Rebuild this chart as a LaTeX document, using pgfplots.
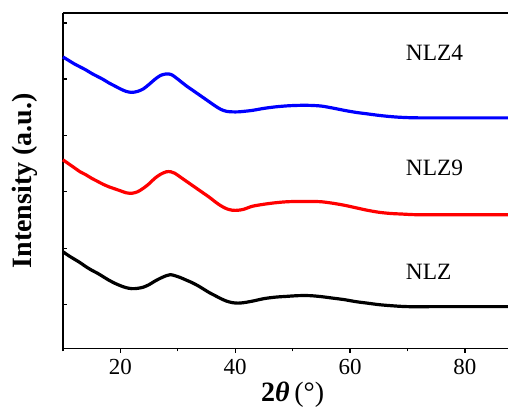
\documentclass[border=0pt]{standalone}
\usepackage{fontspec}
\setmainfont{Liberation Serif}
\usepackage{pgfplots}
\pgfplotsset{compat=1.18}
\begin{document}
\begin{tikzpicture}
\begin{axis}[
  scale only axis,
  width=222.8pt, height=168pt,
  xmin=10, xmax=87.5, ymin=0, ymax=336,
  axis lines*=left,
  axis line style={line width=0.7pt},
  xtick={20,40,60,80},
  minor xtick={10,30,50,70},
  xtick align=outside,
  major tick length=2pt, minor tick length=1.4pt,
  ytick={44,100,157,213,270,326},
  yticklabels={},
  ytick align=inside,
  every tick/.style={black, line width=0.6pt},
  ticklabel style={font=\fontsize{11.5}{13}\selectfont},
  /pgf/number format/assume math mode=true,
  xlabel={{\bfseries 2\textit{θ}}\,(°)},
  ylabel={\bfseries Intensity (a.u.)},
  every axis x label/.style={at={(axis description cs:0.5,0)}, xshift=3.6pt, yshift=-23pt, anchor=center, font=\fontsize{14}{16}\selectfont},
  every axis y label/.style={at={(axis description cs:0,0.5)}, xshift=-19pt, rotate=90, anchor=center, font=\fontsize{14}{16}\selectfont},
  clip=false,
]
\coordinate (A) at (rel axis cs:0,0);
\coordinate (B) at (rel axis cs:1,1);
\draw[line width=0.7pt] (rel axis cs:0,1) -- (rel axis cs:1,1);
% NLZ (black)
\addplot[black, line width=1.6pt, smooth] coordinates {
(10,97) (11,93) (12,89.5) (13,86) (14,82) (15,78.5) (16,75.5) (17,72) (18,68.5) (19,65.5) (20,63) (21,61) (22,60) (23,60.3) (24,61.5) (25,64) (26,67.5) (27,70.5) (28,73) (28.7,74) (29.5,73) (30.5,71) (31.5,68.5) (32.5,66) (33.5,63) (34.5,59.5) (35.5,56) (36.5,53) (37.5,50) (38.5,47.5) (39.5,46) (40.5,45.5) (41.5,46) (43,47.5) (45,50) (47,51.5) (49,52.3) (51,53) (53,53) (55,52) (57,50.5) (59,49) (61,47) (63,45.5) (65,44) (67,43) (70,42) (75,42) (80,42) (87.5,42)
};
% NLZ9 (red)
\addplot[red, line width=1.6pt, smooth] coordinates {
(10,189) (11,185) (12,181) (13,177) (14,174) (15,170.5) (16,167.5) (17,164.5) (18,162) (19,160) (20,158) (21,156) (22,155.5) (23,157) (24,160.5) (25,165) (26,170.5) (27,174.5) (28,177) (28.8,177) (29.5,175.5) (30.5,171.5) (31.5,167.5) (32.5,163.5) (33.5,159.5) (34.5,155.5) (35.5,151.5) (36.5,147) (37.5,143) (38.5,140) (39.5,138.5) (40.5,138.5) (41.5,139.5) (43,142.5) (45,144.5) (47,146) (49,147) (51,147.3) (53,147.3) (55,147) (57,145.5) (59,143.5) (61,141) (63,138.5) (65,136.5) (67,135.3) (69,134.7) (72,134) (80,134) (87.5,134)
};
% NLZ4 (blue)
\addplot[blue, line width=1.6pt, smooth] coordinates {
(10,292) (11,288.5) (12,285) (13,282) (14,279) (15,275.5) (16,272.5) (17,269.5) (18,266) (19,263) (20,260) (21,257.5) (22,256.5) (23,257.5) (24,260) (25,264.5) (26,269.5) (27,273.5) (28,275) (28.8,274.5) (29.5,272) (30.5,267.5) (31.5,263) (32.5,259) (33.5,255) (34.5,251) (35.5,247) (36.5,243) (37.5,239.5) (38.5,237.5) (39.5,237) (40.5,237) (41.5,237.5) (43,238.5) (45,240.5) (47,242) (49,243) (51,243.5) (53,243.5) (55,242.8) (57,240.8) (59,238.5) (61,236.5) (63,235) (65,233.5) (67,232.3) (69,231.5) (72,231) (80,231) (87.5,231)
};
\node[anchor=west, font=\fontsize{11.7}{13}\selectfont] at (axis cs:68.5,296) {NLZ4};
\node[anchor=west, font=\fontsize{11.7}{13}\selectfont] at (axis cs:68.5,181) {NLZ9};
\node[anchor=west, font=\fontsize{11.7}{13}\selectfont] at (axis cs:68.5,77) {NLZ};
\end{axis}
\pgfresetboundingbox
\path[use as bounding box] ([xshift=-31.5pt,yshift=-29.5pt]A) rectangle ([yshift=6.5pt]B);
\end{tikzpicture}
\end{document}
